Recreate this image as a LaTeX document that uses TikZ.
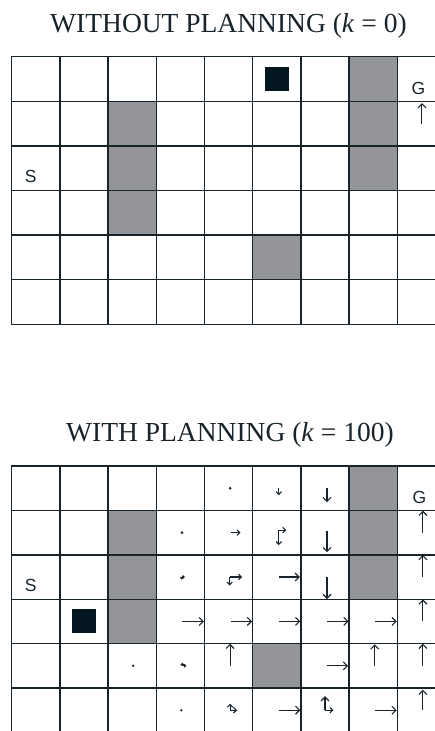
\documentclass[tikz,border=0pt]{standalone}
\usepackage{fontspec}
\setmainfont{Liberation Serif}
\newfontfamily\gsans{Liberation Sans}
\usetikzlibrary{arrows.meta}
\definecolor{ink}{RGB}{24,36,44}
\definecolor{wall}{RGB}{147,149,152}
\definecolor{agent}{RGB}{5,22,32}
\tikzset{
  gridline/.style={line width=1.4bp, draw=ink, line cap=rect},
  title/.style={anchor=base, inner sep=0pt, font=\fontsize{27.5bp}{30bp}\selectfont, text=ink},
  lbl/.style={inner sep=0pt, font=\gsans\fontsize{17.5bp}{19bp}\selectfont, text=ink},
  arr/.style={line width=1.1bp, draw=ink, -{Straight Barb[length=4bp,width=8bp,line width=1.1bp]}},
  sarr/.style={line width=1.1bp, draw=ink, -{Straight Barb[length=2.8bp,width=5.5bp,line width=1.1bp]}},
  tarr/.style={line width=1.3bp, draw=ink, -{Straight Barb[length=1.5bp,width=3bp,line width=1.2bp]}},
  blk/.style={fill=agent},
  wallcell/.style={fill=wall}
}
\begin{document}
\begin{tikzpicture}[x=1bp,y=-1bp]
\useasboundingbox (0,0) rectangle (435,731);
\clip (0,0) rectangle (435,731);

\node[title] (t1) at (228.5,33) {WITHOUT PLANNING (\textit{k} = 0)};
\node[title] (t2) at (230,441) {WITH PLANNING (\textit{k} = 100)};

% ---------- top grid ----------
\begin{scope}[shift={(11.7,56.7)}, x=48.2bp, y=-44.6bp]
  \fill[wallcell] (2,1) rectangle (3,4);
  \fill[wallcell] (7,0) rectangle (8,3);
  \fill[wallcell] (5,4) rectangle (6,5);
  \fill[blk] ([shift={(-11.75bp,12bp)}]5.5,0.5) rectangle ++(23.5bp,-24bp);
  \foreach \i in {0,...,9} \draw[gridline] (\i,0) -- (\i,6);
  \foreach \j in {0,...,6} \draw[gridline] (0,\j) -- (9.6,\j);
  \node[lbl] (g1) at ([shift={(-3bp,-9bp)}]8.5,0.5) {G};
  \node[lbl] (s1) at ([shift={(-5bp,-8bp)}]0.5,2.5) {S};
  \draw[arr] ([xshift=0.5bp]8.5,1.5) -- ++(0bp,20.5bp);
\end{scope}

% ---------- bottom grid ----------
\begin{scope}[shift={(11.7,466)}, x=48.2bp, y=-44.4bp]
  \fill[wallcell] (2,1) rectangle (3,4);
  \fill[wallcell] (7,0) rectangle (8,3);
  \fill[wallcell] (5,4) rectangle (6,5);
  \fill[blk] ([shift={(-11.75bp,12bp)}]1.5,3.5) rectangle ++(23.5bp,-24bp);
  \foreach \i in {0,...,9} \draw[gridline] (\i,0) -- (\i,6);
  \foreach \j in {0,...,6} \draw[gridline] (0,\j) -- (9.6,\j);
  \node[lbl] (g2) at ([shift={(-2bp,-9bp)}]8.5,0.5) {G};
  \node[lbl] (s2) at ([shift={(-5bp,-8bp)}]0.5,2.5) {S};

  % dots
  \fill[ink] ([xshift=1.5bp]4.5,0.5) circle (1.5bp);
  \fill[ink] ([xshift=1.5bp]3.5,1.5) circle (1.5bp);
  \fill[ink] ([xshift=1bp]2.5,4.5) circle (1.3bp);
  \fill[ink] ([xshift=1bp]3.5,5.5) circle (1.3bp);

  % row 0
  \draw[sarr] ([xshift=2bp]5.5,0.5) -- ++(0bp,-7bp);
  \draw[arr]  ([xshift=2bp]6.5,0.5) -- ++(0bp,-14bp);
  % row 1
  \draw[sarr] ([xshift=2bp]4.5,1.5) -- ++(10bp,0bp);
  \draw[sarr] ([shift={(2bp,2.5bp)}]5.5,1.5) -- ++(0bp,-15bp);
  \draw[sarr] ([shift={(2bp,2.5bp)}]5.5,1.5) -- ++(7.5bp,0bp);
  \draw[arr]  ([shift={(2bp,1.5bp)}]6.5,1.5) -- ++(0bp,-21bp);
  \draw[arr]  ([xshift=1.5bp]8.5,1.5) -- ++(0bp,22bp);
  % row 2
  \draw[tarr] ([xshift=1.5bp]3.5,2.5) -- ++(3bp,0bp);
  \draw[tarr] ([xshift=1.5bp]3.5,2.5) -- ++(0bp,-2.5bp);
  \draw[sarr] ([xshift=1bp]4.5,2.5) -- ++(12.5bp,0bp);
  \draw[sarr] ([xshift=1bp]4.5,2.5) -- ++(0bp,-8.5bp);
  \draw[arr]  ([xshift=2bp]5.5,2.5) -- ++(21bp,0bp);
  \draw[arr]  ([xshift=2bp]6.5,2.5) -- ++(0bp,-22bp);
  \draw[arr]  ([xshift=1.5bp]8.5,2.5) -- ++(0bp,22bp);
  % row 3
  \foreach \c in {3,...,7} \draw[arr] ([xshift=2bp]\c.5,3.5) -- ++(21.5bp,0bp);
  \draw[arr]  ([xshift=1.5bp]8.5,3.5) -- ++(0bp,22bp);
  % row 4
  \draw[tarr] ([xshift=2bp]3.5,4.5) -- ++(4bp,0bp);
  \draw[tarr] ([xshift=2bp]3.5,4.5) -- ++(0bp,3bp);
  \draw[arr]  ([xshift=1.5bp]4.5,4.5) -- ++(0bp,22bp);
  \draw[arr]  ([xshift=1.5bp]6.5,4.5) -- ++(21.5bp,0bp);
  \draw[arr]  ([xshift=1.5bp]7.5,4.5) -- ++(0bp,21.5bp);
  \draw[arr]  ([xshift=1.5bp]8.5,4.5) -- ++(0bp,22bp);
  % row 5
  \draw[sarr] ([xshift=1.5bp]4.5,5.5) -- ++(7bp,0bp);
  \draw[sarr] ([xshift=1.5bp]4.5,5.5) -- ++(0bp,6.5bp);
  \draw[arr]  ([xshift=2bp]5.5,5.5) -- ++(21.5bp,0bp);
  \draw[sarr] ([xshift=0bp]6.5,5.5) -- ++(8.5bp,0bp);
  \draw[arr]  ([xshift=0bp]6.5,5.5) -- ++(0bp,14bp);
  \draw[arr]  ([xshift=2bp]7.5,5.5) -- ++(21.5bp,0bp);
  \draw[arr]  ([xshift=1.5bp]8.5,5.5) -- ++(0bp,20.5bp);
\end{scope}
\end{tikzpicture}
\end{document}
